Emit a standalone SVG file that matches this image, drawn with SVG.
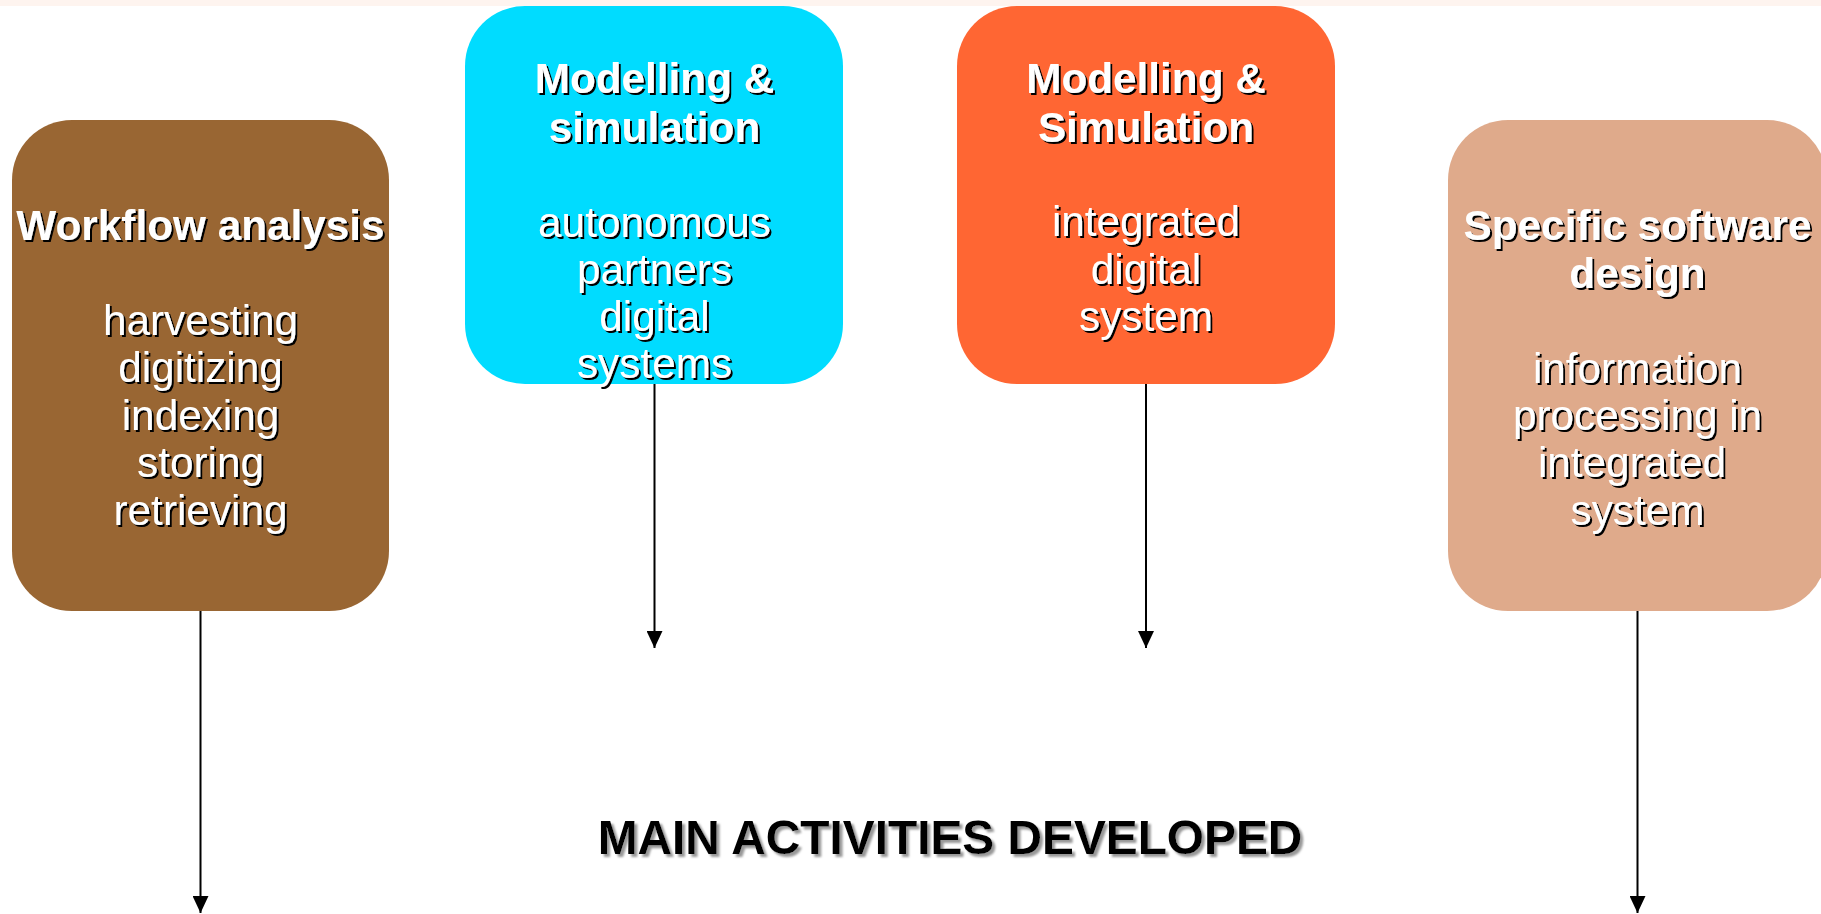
<svg xmlns="http://www.w3.org/2000/svg" width="1821" height="914" viewBox="0 0 1821 914">
  <defs>
    <filter id="sh" x="-10%" y="-10%" width="120%" height="130%">
      <feDropShadow dx="2" dy="2" stdDeviation="0.4" flood-color="#000" flood-opacity="1"/>
    </filter>
    <filter id="shg" x="-10%" y="-10%" width="120%" height="130%">
      <feDropShadow dx="3" dy="3" stdDeviation="0.8" flood-color="#999" flood-opacity="1"/>
    </filter>
    <marker id="arr" viewBox="0 -8 17 16" refX="17" refY="0" markerWidth="17" markerHeight="16" markerUnits="userSpaceOnUse" orient="auto">
      <path d="M0,-8 L17,0 L0,8 z" fill="#000"/>
    </marker>
  </defs>
  <style>
    .t { font-family: "Liberation Sans", Arial, sans-serif; font-size: 42.3px; fill: #fff; text-anchor: middle; filter: url(#sh); }
    .b { font-weight: bold; }
    .conn { stroke: #000; stroke-width: 2; fill: none; marker-end: url(#arr); }
    .title { font-family: "Liberation Sans", Arial, sans-serif; font-size: 47.8px; font-weight: bold; fill: #000; text-anchor: middle; filter: url(#shg); }
  </style>
  <rect x="0" y="0" width="1821" height="914" fill="#fff"/>
  <rect x="0" y="0" width="1821" height="6" fill="#fef4ef"/>

  <g id="connectors">
    <line class="conn" x1="200.5" y1="610" x2="200.5" y2="913"/>
    <line class="conn" x1="654.5" y1="383" x2="654.5" y2="648"/>
    <line class="conn" x1="1146" y1="383" x2="1146" y2="648"/>
    <line class="conn" x1="1637.5" y1="610" x2="1637.5" y2="913"/>
  </g>

  <g id="workflow">
    <rect x="12" y="120" width="377" height="491" rx="60" ry="60" fill="#996633"/>
    <text class="t b" x="200.5" y="240">Workflow analysis</text>
    <text class="t" x="200.5" y="335">harvesting</text>
    <text class="t" x="200.5" y="382">digitizing</text>
    <text class="t" x="200.5" y="430">indexing</text>
    <text class="t" x="200.5" y="477">storing</text>
    <text class="t" x="200.5" y="525">retrieving</text>
  </g>

  <g id="modelling-autonomous">
    <rect x="465" y="6" width="378" height="378" rx="60" ry="60" fill="#00dcff"/>
    <text class="t b" x="654.5" y="93">Modelling &amp;</text>
    <text class="t b" x="654.5" y="142">simulation</text>
    <text class="t" x="654.5" y="237">autonomous</text>
    <text class="t" x="654.5" y="284">partners</text>
    <text class="t" x="654.5" y="331">digital</text>
    <text class="t" x="654.5" y="378">systems</text>
  </g>

  <g id="modelling-integrated">
    <rect x="957" y="6" width="378" height="378" rx="60" ry="60" fill="#ff6633"/>
    <text class="t b" x="1146" y="93">Modelling &amp;</text>
    <text class="t b" x="1146" y="142">Simulation</text>
    <text class="t" x="1146" y="236">integrated</text>
    <text class="t" x="1146" y="284">digital</text>
    <text class="t" x="1146" y="331">system</text>
  </g>

  <g id="software-design">
    <rect x="1448" y="120" width="379" height="491" rx="60" ry="60" fill="#dfaa8b"/>
    <text class="t b" x="1637.5" y="240">Specific software</text>
    <text class="t b" x="1637.5" y="288">design</text>
    <text class="t" x="1637.5" y="383">information</text>
    <text class="t" x="1637.5" y="430">processing in</text>
    <text class="t" x="1632" y="477">integrated</text>
    <text class="t" x="1637.5" y="525">system</text>
  </g>

  <g id="main-title">
    <text class="title" x="950" y="854">MAIN ACTIVITIES DEVELOPED</text>
  </g>
</svg>
